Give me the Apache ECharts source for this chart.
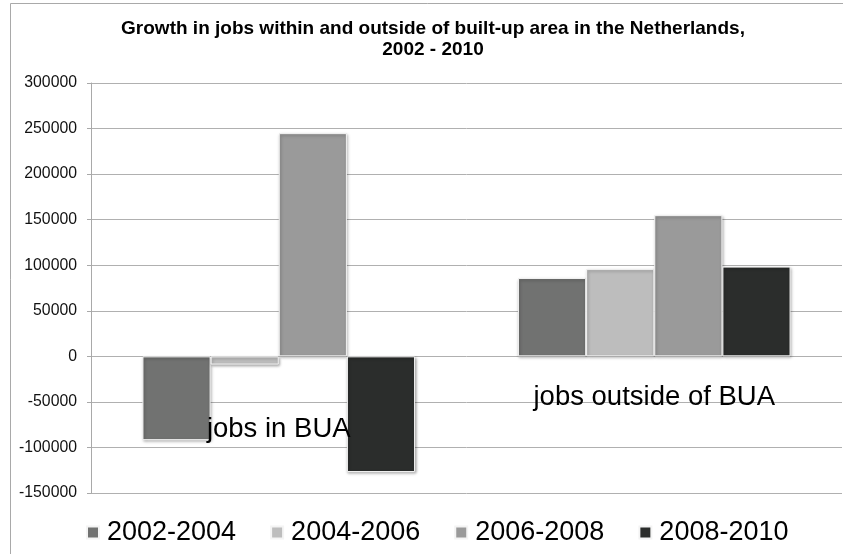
<!DOCTYPE html>
<html>
<head>
<meta charset="utf-8">
<script src="https://cdn.jsdelivr.net/npm/echarts@6/dist/echarts.min.js"></script>
<style>
html,body{margin:0;padding:0;background:#fff;}
#chart{width:843px;height:554px;}
</style>
</head>
<body>
<div id="chart"></div>
<script>
var categories = ['jobs in BUA', 'jobs outside of BUA'];
var periods = ['2002-2004', '2004-2006', '2006-2008', '2008-2010'];
var s2002_2004 = [-92000, 86000];
var s2004_2006 = [-9000, 96000];
var s2006_2008 = [245000, 155000];
var s2008_2010 = [-127000, 98500];
var yTicks = [-150000, -100000, -50000, 0, 50000, 100000, 150000, 200000, 250000, 300000];
var colors = ['#717271', '#bdbdbd', '#9a9a9a', '#2b2d2c'];
var seriesValues = [s2002_2004, s2004_2006, s2006_2008, s2008_2010];

var chart = echarts.init(document.getElementById('chart'), null, {renderer: 'canvas'});
var font = '"Liberation Sans", Arial, Helvetica, sans-serif';

var series = periods.map(function (p, i) {
  return {
    name: p,
    type: 'bar',
    z: 2,
    data: seriesValues[i],
    barGap: '0%',
    barCategoryGap: '27.4%',
    itemStyle: {
      color: colors[i],
      borderColor: '#f4f4f4',
      borderWidth: 1,
      shadowColor: 'rgba(0,0,0,0.35)',
      shadowBlur: 3,
      shadowOffsetX: 1,
      shadowOffsetY: 1.5
    },
    emphasis: {disabled: true},
    animation: false
  };
});

chart.setOption({
  animation: false,
  color: colors,
  title: {
    text: 'Growth in jobs within and outside of built-up area in the Netherlands,\n2002 - 2010',
    left: 433,
    textAlign: 'center',
    top: 19,
    padding: 0,
    textStyle: {
      fontFamily: font,
      fontSize: 19,
      fontWeight: 'bold',
      color: '#000',
      lineHeight: 20.5
    }
  },
  graphic: [{
    type: 'rect',
    silent: true,
    z: -10,
    shape: {x: 10.5, y: 3.5, width: 900, height: 700},
    style: {fill: 'none', stroke: '#a9a9a9', lineWidth: 1}
  }],
  legend: {
    data: periods,
    left: 86,
    top: 519,
    padding: 0,
    icon: 'rect',
    itemWidth: 12,
    itemHeight: 12,
    itemGap: 34,
    textStyle: {fontFamily: font, fontSize: 27, color: '#000', padding: [0, 0, 0, 3]}
  },
  grid: {left: 91, right: 1, top: 83, bottom: 61, containLabel: false, outerBoundsMode: 'none'},
  xAxis: {
    type: 'category',
    data: categories,
    z: 10,
    axisLine: {show: false, onZero: false},
    axisTick: {show: false},
    axisLabel: {
      inside: true,
      margin: 50,
      interval: 0,
      formatter: function (v) {
        return v === categories[0] ? '{a|' + v + '}' : '{b|' + v + '}';
      },
      rich: {
        a: {fontFamily: font, fontSize: 27.5, color: '#000', padding: [0, 0, 0, 0]},
        b: {fontFamily: font, fontSize: 27.5, color: '#000', padding: [0, 0, 32, 0]}
      }
    },
    splitLine: {show: false}
  },
  yAxis: {
    type: 'value',
    min: yTicks[0],
    max: yTicks[yTicks.length - 1],
    interval: 50000,
    axisLine: {show: true, lineStyle: {color: '#a9a9a9', width: 1}},
    axisTick: {show: true, length: 4, lineStyle: {color: '#a9a9a9'}},
    axisLabel: {
      margin: 14,
      fontFamily: font,
      fontSize: 15.8,
      color: '#111',
      formatter: function (v) { return String(v); }
    },
    splitLine: {show: true, lineStyle: {color: '#b0b0b0', width: 1}}
  },
  series: series
});
</script>
</body>
</html>
